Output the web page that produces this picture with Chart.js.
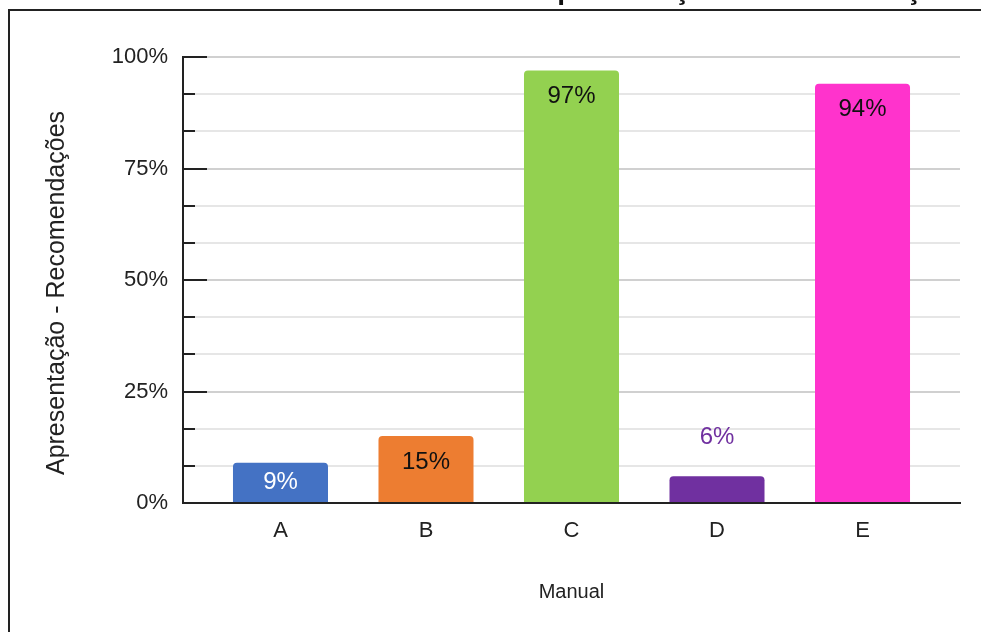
<!DOCTYPE html>
<html>
<head>
<meta charset="utf-8">
<script src="https://cdn.jsdelivr.net/npm/chart.js@4/dist/chart.umd.min.js"></script>
<style>
  html, body { margin: 0; padding: 0; background: #ffffff; }
  #wrap { width: 981px; height: 632px; position: relative; overflow: hidden; }
</style>
</head>
<body>
<div id="wrap"><canvas id="chart" width="981" height="632"></canvas></div>
<script>
// Chart content
const chartTitle = 'Apresentação - Recomendações vs. Manual';
const categories = ['A', 'B', 'C', 'D', 'E'];
const values = [9, 15, 97, 6, 94];
const barColors = ['#4472C4', '#ED7D31', '#93D150', '#7030A0', '#FF33CC'];
const labelColors = ['#ffffff', '#111111', '#111111', '#7030A0', '#111111'];
const yMajorTicks = [0, 25, 50, 75, 100];
const minorPerMajor = 3;
const yAxisTitle = 'Apresentação - Recomendações';
const xAxisTitle = 'Manual';

const INK = '#222222';
const SANS = '"Liberation Sans", Arial, sans-serif';

// Outer frame and the (partly hidden) chart title
const framePlugin = {
  id: 'frame',
  afterDraw(chart) {
    const ctx = chart.ctx;
    ctx.save();
    ctx.font = 'bold 28px ' + SANS;
    ctx.fillStyle = '#111111';
    ctx.textAlign = 'left';
    ctx.textBaseline = 'alphabetic';
    ctx.fillText(chartTitle, 537, -1);
    ctx.strokeStyle = INK;
    ctx.lineWidth = 2;
    ctx.beginPath();
    ctx.moveTo(9, chart.height);
    ctx.lineTo(9, 10);
    ctx.lineTo(chart.width, 10);
    ctx.stroke();
    ctx.restore();
  }
};

// Tick marks that sit just inside the vertical axis
const innerTicksPlugin = {
  id: 'innerTicks',
  afterDatasetsDraw(chart) {
    const y = chart.scales.y;
    const ctx = chart.ctx;
    const x0 = chart.chartArea.left;
    ctx.save();
    ctx.strokeStyle = INK;
    ctx.lineWidth = 2;
    y.ticks.forEach((t, i) => {
      const py = Math.round(y.getPixelForValue(t.value));
      const len = i % minorPerMajor === 0 ? 24 : 12;
      ctx.beginPath();
      ctx.moveTo(x0, py);
      ctx.lineTo(x0 + len, py);
      ctx.stroke();
    });
    ctx.restore();
  }
};

// Value labels on the bars, and the vertical axis title
const valueLabelsPlugin = {
  id: 'valueLabels',
  afterDatasetsDraw(chart) {
    const ctx = chart.ctx;
    const meta = chart.getDatasetMeta(0);
    ctx.save();
    ctx.font = '24px ' + SANS;
    ctx.textAlign = 'center';
    ctx.textBaseline = 'middle';
    meta.data.forEach((bar, i) => {
      const h = bar.base - bar.y;
      let ly;
      if (h >= 50) ly = bar.y + 26;
      else if (h >= 30) ly = (bar.y + bar.base) / 2;
      else ly = bar.y - 39;
      ctx.fillStyle = labelColors[i];
      ctx.fillText(values[i] + '%', bar.x, ly);
    });
    ctx.font = '25px ' + SANS;
    ctx.translate(57, 293);
    ctx.rotate(-Math.PI / 2);
    ctx.fillStyle = INK;
    ctx.fillText(yAxisTitle, 0, 0);
    ctx.restore();
  }
};

new Chart(document.getElementById('chart'), {
  type: 'bar',
  data: {
    datasets: [{
      data: values.map((v, i) => ({ x: i, y: v })),
      backgroundColor: barColors,
      borderRadius: { topLeft: 4, topRight: 4, bottomLeft: 0, bottomRight: 0 },
      borderSkipped: 'bottom',
      barPercentage: 0.653,
      categoryPercentage: 1
    }]
  },
  options: {
    responsive: false,
    animation: false,
    devicePixelRatio: 1,
    layout: { padding: { left: 0, top: 57, right: 21, bottom: 0 } },
    plugins: { legend: { display: false }, tooltip: { enabled: false }, title: { display: false } },
    scales: {
      x: {
        type: 'linear',
        offset: false,
        min: -0.67,
        max: categories.length - 1 + 0.67,
        afterBuildTicks(scale) { scale.ticks = categories.map((c, i) => ({ value: i })); },
        afterFit(scale) { scale.height = 129; },
        grid: { display: false, drawTicks: false },
        border: { display: true, color: INK, width: 2, z: 1 },
        ticks: {
          autoSkip: false,
          maxRotation: 0,
          padding: 15,
          color: INK,
          font: { family: SANS, size: 22 },
          callback: (v) => categories[v] ?? ''
        },
        title: {
          display: true,
          text: xAxisTitle,
          color: INK,
          font: { family: SANS, size: 20 },
          padding: { top: 0, bottom: 28 }
        }
      },
      y: {
        min: 0,
        max: 100,
        afterBuildTicks(scale) {
          const ticks = [];
          for (let m = 0; m < yMajorTicks.length; m++) {
            ticks.push({ value: yMajorTicks[m] });
            if (m < yMajorTicks.length - 1) {
              const step = (yMajorTicks[m + 1] - yMajorTicks[m]) / minorPerMajor;
              for (let k = 1; k < minorPerMajor; k++) ticks.push({ value: yMajorTicks[m] + k * step });
            }
          }
          scale.ticks = ticks;
        },
        afterFit(scale) { scale.width = 183; },
        grid: {
          drawTicks: false,
          lineWidth: 2,
          color: (c) => (c.index % minorPerMajor === 0 ? '#d0d0d0' : '#e6e6e6')
        },
        border: { display: true, color: INK, width: 2, z: 1 },
        ticks: {
          autoSkip: false,
          padding: 15,
          color: INK,
          font: { family: SANS, size: 22 },
          callback: (v, i) => (i % minorPerMajor === 0 ? yMajorTicks[i / minorPerMajor] + '%' : '')
        }
      }
    }
  },
  plugins: [framePlugin, innerTicksPlugin, valueLabelsPlugin]
});
</script>
</body>
</html>
